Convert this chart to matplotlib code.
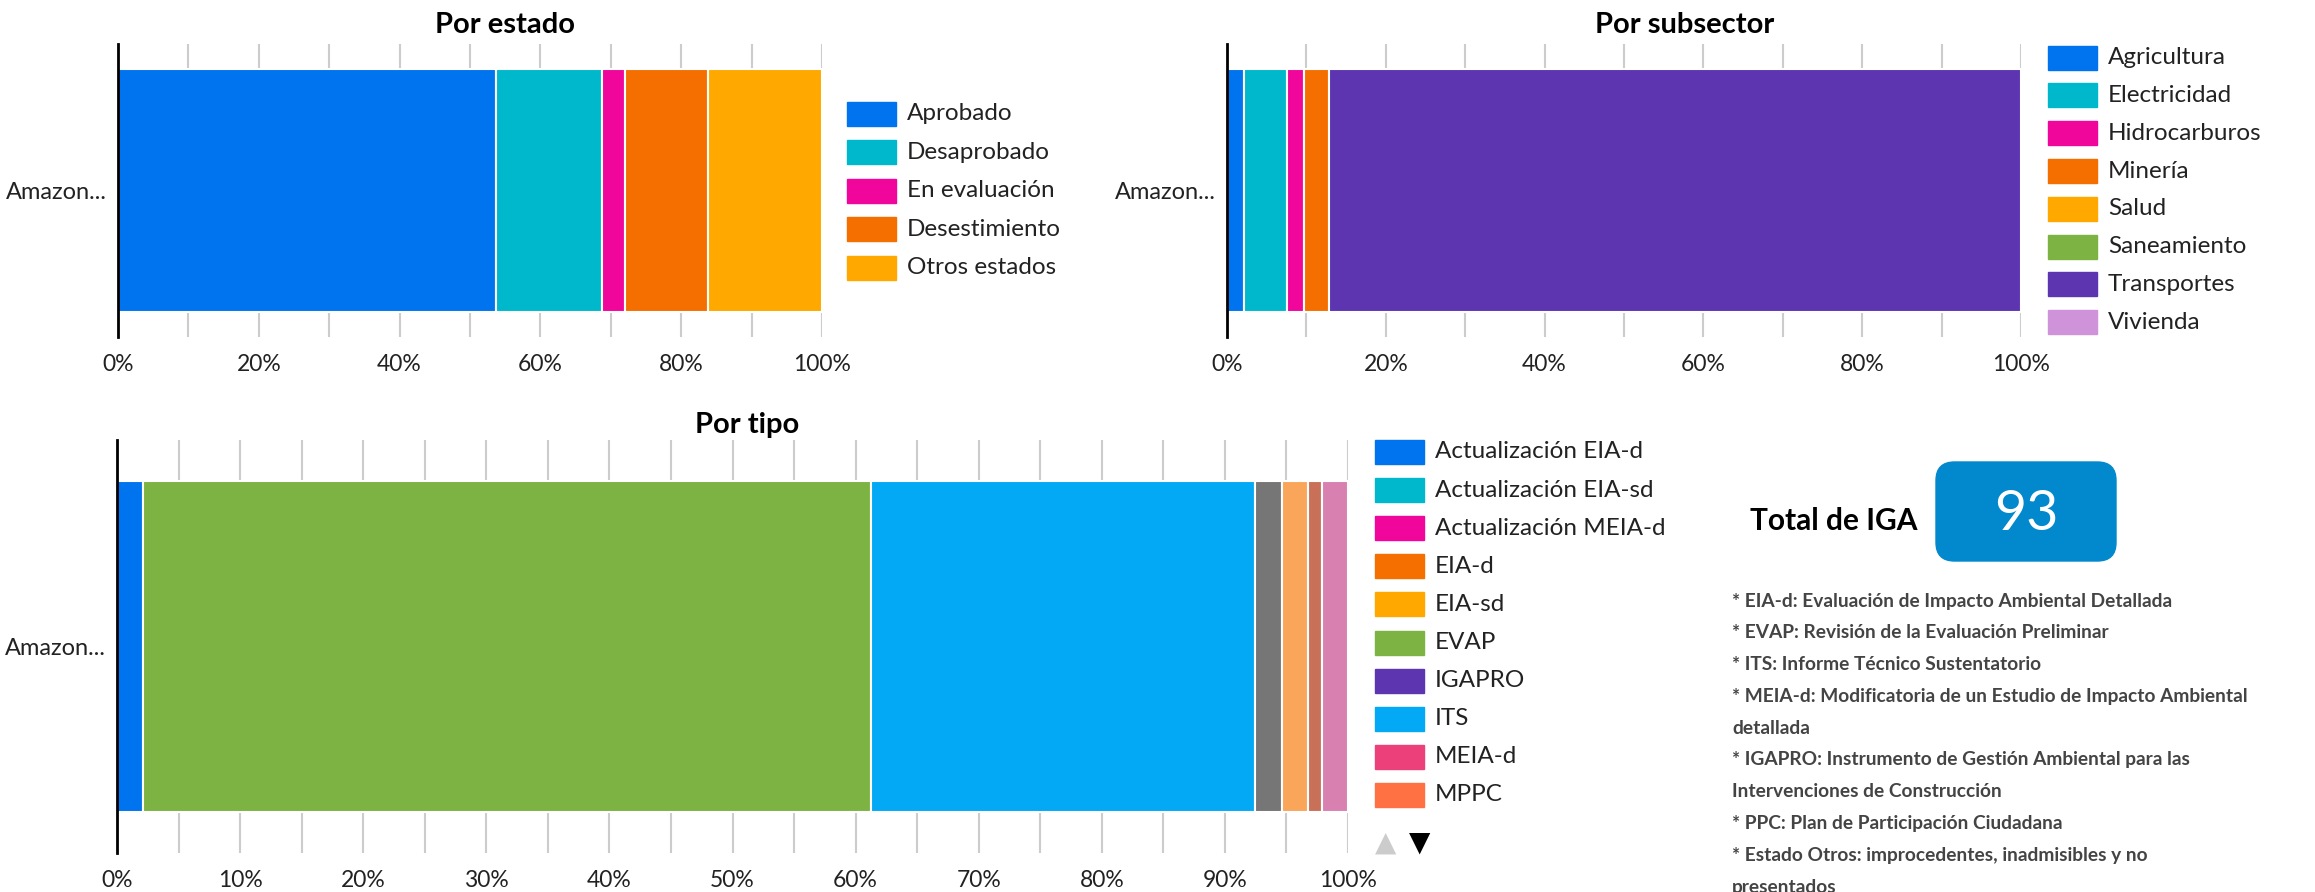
import matplotlib.pyplot as plt
import matplotlib.patches as mpatches
from matplotlib.patches import FancyBboxPatch
import numpy as np

plt.rcParams['font.family'] = ['Lato', 'DejaVu Sans']

W, H = 2315, 892

# data
region = ["Amazon..."]
estado_labels = ["Aprobado", "Desaprobado", "En evaluación", "Desestimiento", "Otros estados"]
estado_counts = [50, 14, 3, 11, 15]
estado_colors = ["#0073ee", "#00b8cc", "#f0069a", "#f46f00", "#ffa800"]

subsector_labels = ["Agricultura", "Electricidad", "Hidrocarburos", "Minería", "Salud",
                    "Saneamiento", "Transportes", "Vivienda"]
subsector_counts = [2, 5, 2, 3, 0, 0, 81, 0]
subsector_colors = ["#0073ee", "#00b8cc", "#f0069a", "#f46f00", "#ffa800",
                    "#7cb342", "#5e35b1", "#ce93d8"]

tipo_labels = ["Actualización EIA-d", "Actualización EIA-sd", "Actualización MEIA-d", "EIA-d",
               "EIA-sd", "EVAP", "IGAPRO", "ITS", "MEIA-d", "MPPC",
               "Otros", "PAMA", "PC", "PPC"]
tipo_counts = [2, 0, 0, 0, 0, 55, 0, 29, 0, 0, 2, 2, 1, 2]
tipo_colors = ["#0073ee", "#00b8cc", "#f0069a", "#f46f00", "#ffa800",
               "#7cb342", "#5e35b1", "#03a9f4", "#ec407a", "#ff7043",
               "#767676", "#f9a65a", "#c97058", "#d881b1"]
tipo_legend_shown = 10

total_iga = 93
notas = ["* EIA-d: Evaluación de Impacto Ambiental Detallada",
         "* EVAP: Revisión de la Evaluación Preliminar",
         "* ITS: Informe Técnico Sustentatorio",
         "* MEIA-d: Modificatoria de un Estudio de Impacto Ambiental",
         "detallada",
         "* IGAPRO: Instrumento de Gestión Ambiental para las",
         "Intervenciones de Construcción",
         "* PPC: Plan de Participación Ciudadana",
         "* Estado Otros: improcedentes, inadmisibles y no",
         "presentados"]

fig = plt.figure(figsize=(W / 100, H / 100), dpi=100)


def px_axes(l, t, r, b):
    return fig.add_axes([l / W, 1 - b / H, (r - l) / W, (b - t) / H])


def stacked(ax, counts, colors, height, major, minor):
    total = sum(counts)
    pct = np.array(counts) / total * 100
    left = 0
    for v, c in zip(pct, colors):
        if v > 0:
            ax.barh(0, v, left=left, height=height, color=c, edgecolor="white", linewidth=1.5, zorder=3)
        left += v
    ax.set_xlim(0, 100)
    ax.set_ylim(-0.5, 0.5)
    ax.set_xticks(np.arange(0, 101, major))
    ax.set_xticklabels([f"{int(t)}%" for t in np.arange(0, 101, major)])
    ax.set_xticks(np.arange(0, 101, minor), minor=True)
    ax.grid(axis="x", which="both", color="#cccccc", linewidth=1.5, zorder=0)
    ax.set_yticks([0])
    ax.set_yticklabels(region)
    for s in ["top", "right", "bottom"]:
        ax.spines[s].set_visible(False)
    ax.spines["left"].set_linewidth(2)
    ax.spines["left"].set_zorder(5)
    ax.tick_params(axis="both", which="both", length=0, labelsize=16.5, colors="#222222", pad=8)
    ax.tick_params(axis="x", pad=12)
    ax.tick_params(axis="y", labelsize=17)
    ax.set_axisbelow(True)


def legend(labels, colors, x, y0, dy, n=None):
    if n is None:
        n = len(labels)
    for i in range(n):
        y = y0 + i * dy
        fig.patches.append(mpatches.Rectangle((x / W, 1 - (y + 12) / H), 49 / W, 24 / H,
                                              transform=fig.transFigure, color=colors[i]))
        fig.text((x + 60) / W, 1 - y / H, labels[i], fontsize=17.5, va="center", ha="left", color="#222222")


ax1 = px_axes(118, 44, 822, 337)
stacked(ax1, estado_counts, estado_colors, 0.83, 20, 10)
fig.text(505 / W, 1 - 25 / H, "Por estado", fontsize=21, fontweight="bold", ha="center", va="center")
legend(estado_labels, estado_colors, 847, 114, 38.4)

ax2 = px_axes(1227, 44, 2021, 337)
stacked(ax2, subsector_counts, subsector_colors, 0.83, 20, 10)
fig.text(1685 / W, 1 - 25 / H, "Por subsector", fontsize=21, fontweight="bold", ha="center", va="center")
legend(subsector_labels, subsector_colors, 2048, 57.6, 37.8)

ax3 = px_axes(117, 440, 1348, 853)
stacked(ax3, tipo_counts, tipo_colors, 0.8, 10, 5)
fig.text(747 / W, 1 - 425 / H, "Por tipo", fontsize=21, fontweight="bold", ha="center", va="center")
legend(tipo_labels, tipo_colors, 1375, 452, 38.1, tipo_legend_shown)
fig.text(1386 / W, 1 - 843 / H, "▲", fontsize=20, color="#cccccc", ha="center", va="center", family="DejaVu Sans")
fig.text(1420 / W, 1 - 843 / H, "▼", fontsize=20, color="#000000", ha="center", va="center", family="DejaVu Sans")

# total box
fig.text(1918 / W, 1 - 521 / H, "Total de IGA", fontsize=21.5, fontweight="bold", ha="right", va="center")
box = FancyBboxPatch((1936 / W, 1 - 561 / H), 180 / W, 99 / H,
                     boxstyle="round,pad=0,rounding_size=0.008", transform=fig.transFigure,
                     color="#0288cc", mutation_aspect=W / H)
fig.patches.append(box)
fig.text(2026 / W, 1 - 514 / H, str(total_iga), fontsize=40, color="white", ha="center", va="center",
         fontweight="normal")

for i, line in enumerate(notas):
    fig.text(1732 / W, 1 - (601 + i * 31.8) / H, line, fontsize=13.8, color="#444444",
             fontweight="bold", ha="left", va="center")

fig.savefig("out.png", dpi=100, facecolor="white")
